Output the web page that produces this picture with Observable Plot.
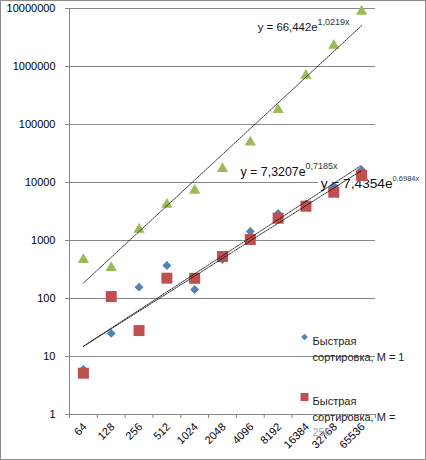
<!DOCTYPE html>
<html><head><meta charset="utf-8">
<script src="https://cdn.jsdelivr.net/npm/d3@7"></script>
<script src="https://cdn.jsdelivr.net/npm/@observablehq/plot@0.6"></script>
<style>
body{margin:0;background:#fff}
#chart svg{display:block;outline:1px solid #8c8c8c;outline-offset:-1px}
</style>
</head><body><div id="chart"></div>
<script>
const categories = ["64","128","256","512","1024","2048","4096","8192","16384","32768","65536"];
const quickM1   = [6, 25, 157, 371, 143, 470, 1430, 2920, 4260, 8700, 16400];
const quickM256 = [5.15, 108, 28, 224, 223, 530, 1040, 2425, 3900, 6800, 13300];
const series3   = [465, 338, 1550, 4170, 7270, 17200, 49500, 179000, 700000, 2300000, 8900000];
const seriesNames = ["Быстрая сортировка, M = 1", "Быстрая сортировка, M = 256", "Ряд 3"];
const trendA = [7.3207, 7.4354, 66.442];
const trendB = [0.7185, 0.6984, 1.0219];
const trendMain = ["y = 7,3207e", "y = 7,4354e", "y = 66,442e"];
const trendExp  = ["0,7185x", "0,6984x", "1,0219x"];
const yTicks = [1, 10, 100, 1000, 10000, 100000, 1000000, 10000000];
const legendLines = [["Быстрая", "сортировка, M = 1"], ["Быстрая", "сортировка, M =", "256"]];

const colors = ["#4F81BD", "#C0504D", "#9BBB59"];
const symbols = ["diamond2", "square", "triangle"];
const radii = [4.0, 6.2, 4.2];
const allSeries = [quickM1, quickM256, series3];

const idx = categories.map((c, i) => i + 1);
const rows = allSeries.map((vals, s) => vals.map((v, i) => ({i: i + 1, v, s})));
const trendRows = allSeries.map((_, s) => idx.map(i => ({i, v: trendA[s] * Math.exp(trendB[s] * i), s}))).flat();
const trendEnd = s => [{i: idx[idx.length - 1], v: trendA[s] * Math.exp(trendB[s] * idx[idx.length - 1])}];
const boundaries = d3.range(0.5, categories.length + 1, 1);

// label layout: [dx, dy main, dy superscript, font main, font sup, halo]
const labelLayout = [
  [-56, 7, 1, 12.4, 9, false],
  [31, 13.5, 8.5, 13.7, 7.5, true],
  [-44, 2, -4, 11.4, 9, false]
];
const legendBase = [329, 389];

const marks = [
  Plot.ruleY(yTicks, {stroke: "#868686"}),
  Plot.ruleX([boundaries[0]], {stroke: "#868686"}),
  Plot.axisY({ticks: yTicks, tickFormat: d3.format("d"), tickSize: 4, tickPadding: 10, stroke: "#868686", fill: "#000", fontSize: 11, label: null}),
  Plot.axisX({ticks: boundaries, tickSize: 4, tickFormat: () => "", stroke: "#868686", label: null}),
  Plot.text(categories, {x: (d, i) => i + 1, frameAnchor: "bottom", text: d => d, rotate: -45, textAnchor: "end", dx: 4, dy: 13, fill: "#000", fontSize: 11})
];

// trendline labels (under markers)
labelLayout.forEach(([dx, dy, dys, fm, fs, halo], s) => {
  marks.push(Plot.text(trendEnd(s), {x: "i", y: "v", text: () => trendMain[s], textAnchor: "end", dx, dy, fontSize: fm, fill: "#111",
    ...(halo ? {stroke: "white", strokeWidth: 6, strokeLinejoin: "round"} : {})}));
  marks.push(Plot.text(trendEnd(s), {x: "i", y: "v", text: () => trendExp[s], textAnchor: "start", dx, dy: dys, fontSize: fs, fill: "#333",
    ...(halo ? {stroke: "white", strokeWidth: 4, strokeLinejoin: "round"} : {})}));
});

// markers
rows.forEach((r, s) => {
  marks.push(Plot.dot(r, {x: "i", y: "v", symbol: symbols[s], r: radii[s], fill: colors[s], stroke: "none"}));
});

// trendlines
marks.push(Plot.line(trendRows, {x: "i", y: "v", z: "s", stroke: "#000", strokeWidth: 0.8, strokeDasharray: "1.6,1.1"}));

// legend
[0, 1].forEach(k => {
  marks.push(Plot.dot([seriesNames[k]], {frameAnchor: "top-left", dx: 235, dy: legendBase[k] - 0.5, symbol: k === 0 ? "diamond2" : "square", r: k === 0 ? 3.0 : 4.5, fill: colors[k]}));
  legendLines[k].forEach((t, j) => {
    marks.push(Plot.text([t], {frameAnchor: "top-left", text: d => d, textAnchor: "start", dx: 243, dy: legendBase[k] + j * 15.5, fontSize: 11, fill: j === 2 ? "#aaa" : "#222"}));
  });
});

const chart = Plot.plot({
  width: 426, height: 460,
  marginLeft: 69, marginRight: 51, marginTop: 8, marginBottom: 46,
  x: {type: "linear", domain: [boundaries[0], boundaries[boundaries.length - 1]], axis: null},
  y: {type: "log", domain: [yTicks[0], yTicks[yTicks.length - 1]], axis: null},
  style: {fontFamily: "'Liberation Sans', Arial, sans-serif", fontSize: "11px", background: "#fff", color: "#000"},
  marks
});
document.getElementById("chart").appendChild(chart);
</script>
</body></html>
